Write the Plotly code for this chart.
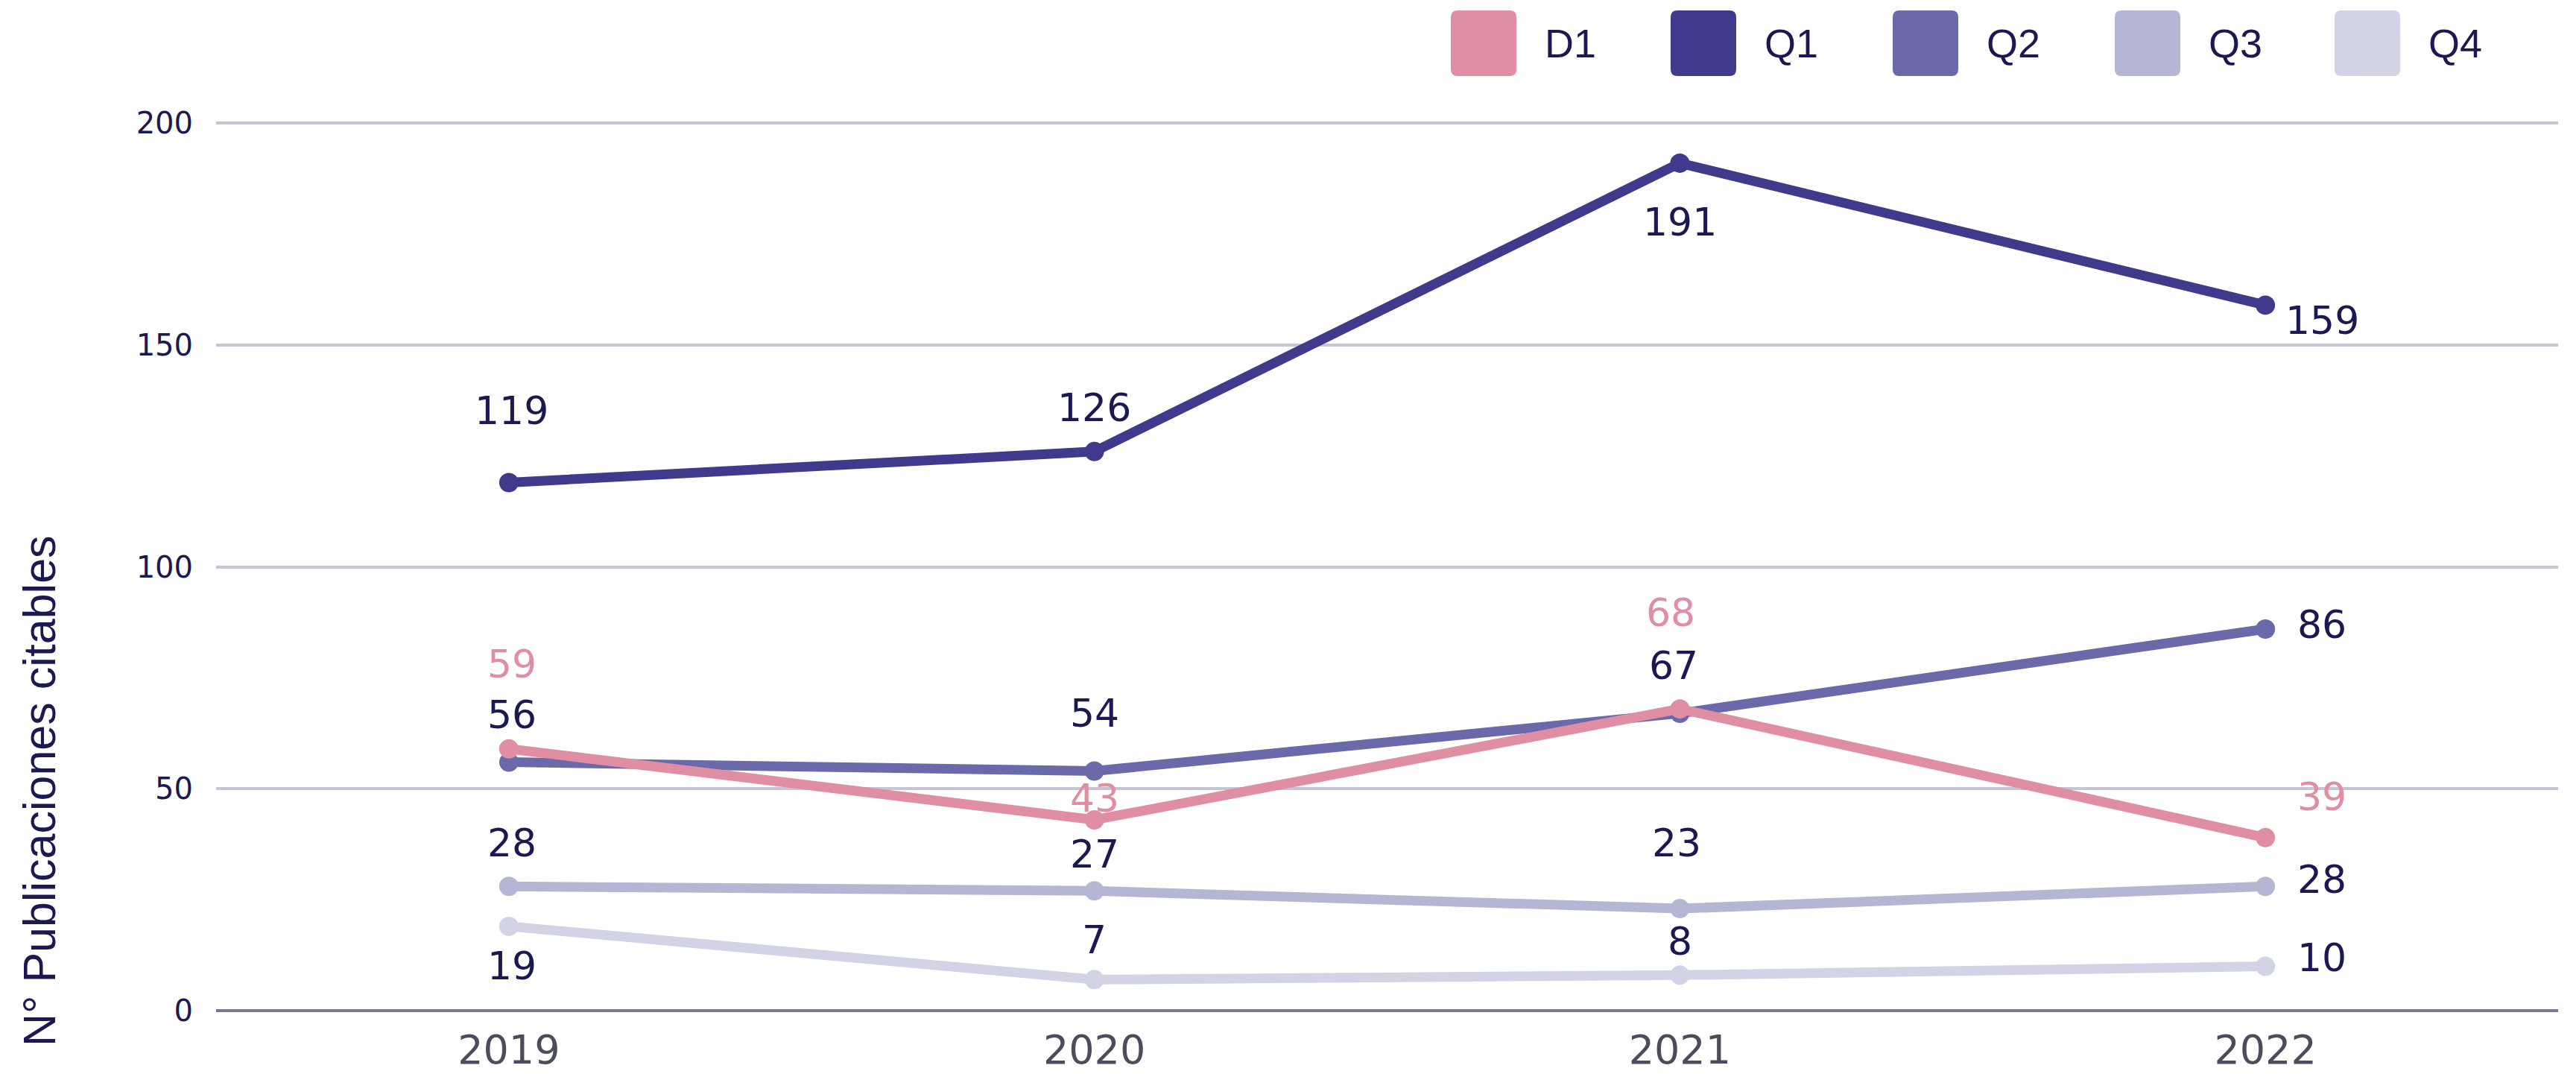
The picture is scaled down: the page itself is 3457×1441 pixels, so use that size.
import plotly.graph_objects as go

# ---------------- data ----------------
years = ["2019", "2020", "2021", "2022"]
series_names = ["D1", "Q1", "Q2", "Q3", "Q4"]
d1 = [59, 43, 68, 39]
q1 = [119, 126, 191, 159]
q2 = [56, 54, 67, 86]
q3 = [28, 27, 23, 28]
q4 = [19, 7, 8, 10]
y_ticks = [0, 50, 100, 150, 200]
y_title = "N° Publicaciones citables"

# ---------------- style ----------------
W, H = 3457, 1441
ML, MR, MT, MB = 290, 24, 76, 85
PW, PH = W - ML - MR, H - MT - MB

colors = {"D1": "#E08EA3", "Q1": "#3F3A8C", "Q2": "#6A69AA", "Q3": "#B5B5D4", "Q4": "#D2D3E5"}
navy = "#1C1853"
label_colors = {"D1": "#E08EA3", "Q1": navy, "Q2": navy, "Q3": navy, "Q4": navy}
num_font = "DejaVu Sans"
txt_font = "Liberation Sans, Arial, sans-serif"

values = {"D1": d1, "Q1": q1, "Q2": q2, "Q3": q3, "Q4": q4}
# label offsets in screen pixels (dx, dy up)
offsets = {
    "Q1": [(4, 97), (0, 59), (0, -79), (76, -21)],
    "D1": [(4, 114), (0, 29), (-12, 129), (76, 55)],
    "Q2": [(4, 64), (0, 78), (-8, 64), (76, 6)],
    "Q3": [(4, 58), (0, 49), (-4, 88), (76, 9)],
    "Q4": [(4, -53), (0, 53), (0, 45), (76, 11)],
}

fig = go.Figure()
for name in ["Q4", "Q3", "Q2", "Q1", "D1"]:
    fig.add_trace(go.Scatter(
        x=years, y=values[name], name=name, mode="lines+markers",
        line=dict(color=colors[name], width=13),
        marker=dict(color=colors[name], size=26),
        showlegend=False, hoverinfo="skip",
    ))

annotations = []
for name in ["Q4", "Q3", "Q2", "Q1", "D1"]:
    for i, v in enumerate(values[name]):
        dx, dy = offsets[name][i]
        annotations.append(dict(
            x=i, y=v, xref="x", yref="y", text=str(v), showarrow=False,
            xanchor="center", yanchor="middle", xshift=dx, yshift=dy,
            font=dict(family=num_font, size=52, color=label_colors[name]),
        ))

def px2paper_x(px):
    return (px - ML) / PW

def px2paper_y(py):
    return (H - MB - py) / PH

# y axis title
annotations.append(dict(
    x=px2paper_x(53), y=px2paper_y(716), xref="paper", yref="paper",
    text=y_title, textangle=-90, showarrow=False, xanchor="center", yanchor="top",
    font=dict(family=txt_font, size=61, color=navy),
))

# custom legend (rounded squares + labels)
shapes = []
leg_left = [1947, 2242, 2540, 2838, 3133]
box = 88
top, bottom = 14, 102
r = 9
for name, lx in zip(series_names, leg_left):
    x0, x1 = px2paper_x(lx), px2paper_x(lx + box)
    y0, y1 = px2paper_y(bottom), px2paper_y(top)
    rx, ry = r / PW, r / PH
    path = (f"M {x0+rx},{y0} L {x1-rx},{y0} Q {x1},{y0} {x1},{y0+ry} "
            f"L {x1},{y1-ry} Q {x1},{y1} {x1-rx},{y1} L {x0+rx},{y1} "
            f"Q {x0},{y1} {x0},{y1-ry} L {x0},{y0+ry} Q {x0},{y0} {x0+rx},{y0} Z")
    shapes.append(dict(type="path", xref="paper", yref="paper", path=path,
                       fillcolor=colors[name], line=dict(width=0)))
    annotations.append(dict(
        x=px2paper_x(lx + 124), y=px2paper_y((top + bottom) / 2), xref="paper", yref="paper",
        text=name, showarrow=False, xanchor="left", yanchor="middle",
        font=dict(family=txt_font, size=54, color=navy),
    ))

fig.update_layout(
    width=W, height=H,
    margin=dict(l=ML, r=MR, t=MT, b=MB, pad=0),
    paper_bgcolor="white", plot_bgcolor="white",
    showlegend=False,
    annotations=annotations, shapes=shapes,
    xaxis=dict(type="category", range=[-0.5, 3.5], showgrid=False, showline=False,
               zeroline=False, ticks="", ticklabelstandoff=16, automargin=False,
               tickfont=dict(family=num_font, size=54, color="#4B4C5C")),
    yaxis=dict(range=[0, 215], tickvals=y_ticks, showgrid=True, gridcolor="#C6C5D7",
               gridwidth=4, zeroline=True, zerolinecolor="#7A7899", zerolinewidth=4,
               showline=False, ticks="", ticklabelstandoff=30, automargin=False,
               tickfont=dict(family=num_font, size=40, color=navy)),
)

fig.write_html("out.html", include_plotlyjs=True,
               config={"displayModeBar": False, "responsive": False},
               post_script="document.body.style.margin='0';")
